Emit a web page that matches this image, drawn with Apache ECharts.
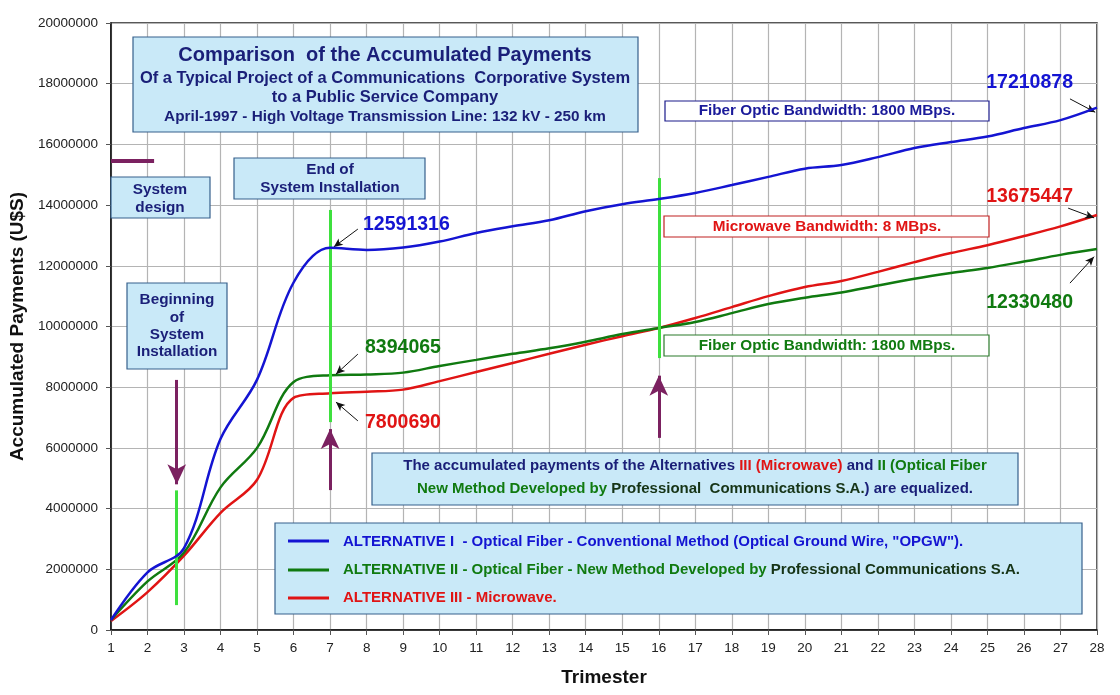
<!DOCTYPE html>
<html>
<head>
<meta charset="utf-8">
<script src="https://cdn.jsdelivr.net/npm/echarts@6/dist/echarts.min.js"></script>
<style>
  html, body { margin: 0; padding: 0; background: #fff; }
  #chart { width: 1120px; height: 695px; }
</style>
</head>
<body>
<div id="chart"></div>
<script>
// data
var trimesters = [1, 2, 3, 4, 5, 6, 7, 8, 9, 10, 11, 12, 13, 14, 15, 16, 17, 18, 19, 20, 21, 22, 23, 24, 25, 26, 27, 28];
var altI = [330000, 1900000, 2700000, 6300000, 8250000, 11450000, 12591316, 12520000, 12600000, 12800000, 13080000, 13300000, 13500000, 13800000, 14030000, 14200000, 14400000, 14660000, 14930000, 15200000, 15320000, 15580000, 15880000, 16080000, 16260000, 16540000, 16800000, 17210878];
var altII = [330000, 1600000, 2550000, 4700000, 6000000, 8170000, 8394065, 8420000, 8480000, 8700000, 8900000, 9100000, 9280000, 9500000, 9750000, 9950000, 10150000, 10440000, 10740000, 10950000, 11120000, 11350000, 11570000, 11760000, 11930000, 12140000, 12360000, 12550000];
var altIII = [300000, 1250000, 2450000, 3860000, 4950000, 7650000, 7800690, 7850000, 7920000, 8200000, 8500000, 8800000, 9100000, 9400000, 9680000, 9950000, 10280000, 10640000, 11000000, 11300000, 11500000, 11800000, 12120000, 12420000, 12680000, 12980000, 13300000, 13675447];
var yTicks = { min: 0, max: 20000000, step: 2000000 };
var valueLabels = ["12591316", "8394065", "7800690", "17210878", "13675447", "12330480"];

var FONT = '"Liberation Sans", Arial, sans-serif';
var BLUE = "#1414d2", GREEN = "#107a10", RED = "#e01414";
var NAVY = "#1a1f78", PURPLE = "#7b2160", LIME = "#3ee03e";
var BOXFILL = "#c9e9f8", BOXLINE = "#36608c";

function pairs(vals) {
  return trimesters.map(function (t, i) { return [t, vals[i]]; });
}

function seg(x1, y1, x2, y2, color, width, s1, s2, size) {
  return [
    { coord: [x1, y1], symbol: s1 || "none", symbolSize: size, lineStyle: { color: color, width: width, type: "solid" } },
    { coord: [x2, y2], symbol: s2 || "none", symbolSize: size }
  ];
}

var arrowSize = [14, 20];
var markLines = [
  seg(1, 15450000, 2.18, 15450000, PURPLE, 4),
  seg(2.8, 4600000, 2.8, 820000, LIME, 3),
  seg(7, 13840000, 7, 6850000, LIME, 3),
  seg(16, 14890000, 16, 8960000, LIME, 3),
  seg(2.8, 8240000, 2.8, 4800000, PURPLE, 3, "none", "arrow", arrowSize),
  seg(7, 4610000, 7, 6620000, PURPLE, 3, "none", "arrow", arrowSize),
  seg(16, 6330000, 16, 8380000, PURPLE, 3, "none", "arrow", arrowSize),
  // little black pointers to the printed values
  seg(7.76, 13210000, 7.1, 12620000, "#111", 1, "none", "arrow", [6, 9]),
  seg(7.76, 9090000, 7.16, 8430000, "#111", 1, "none", "arrow", [6, 9]),
  seg(7.76, 6890000, 7.16, 7510000, "#111", 1, "none", "arrow", [6, 9]),
  seg(27.26, 17500000, 27.95, 17060000, "#111", 1, "none", "arrow", [6, 9]),
  seg(27.21, 13900000, 27.92, 13580000, "#111", 1, "none", "arrow", [6, 9]),
  seg(27.26, 11430000, 27.92, 12300000, "#111", 1, "none", "arrow", [6, 9])
];

function txt(text, x, y, color, size, align) {
  return {
    type: "text", z: 100,
    style: {
      text: text, x: x, y: y, fill: color,
      font: "bold " + size + "px " + FONT,
      textAlign: align || "center", textVerticalAlign: "middle"
    }
  };
}
function box(x, y, w, h, fill, stroke) {
  return {
    type: "rect", z: 90,
    shape: { x: x, y: y, width: w, height: h },
    style: { fill: fill, stroke: stroke, lineWidth: 1.2 }
  };
}
function rich(text, x, y, align) {
  var r = {};
  [["n", NAVY], ["r", RED], ["g", GREEN], ["b", BLUE], ["k", "#163416"]].forEach(function (c) {
    r[c[0]] = { fill: c[1], fontSize: 15, fontWeight: "bold", fontFamily: FONT };
  });
  return {
    type: "text", z: 100,
    style: { text: text, rich: r, x: x, y: y, textAlign: align || "center", textVerticalAlign: "middle" }
  };
}

var graphics = [
  box(133, 37, 505, 95, BOXFILL, BOXLINE),
  txt("Comparison  of the Accumulated Payments", 385, 55, NAVY, 20),
  txt("Of a Typical Project of a Communications  Corporative System", 385, 78, NAVY, 16.5),
  txt("to a Public Service Company", 385, 97, NAVY, 16.5),
  txt("April-1997 - High Voltage Transmission Line: 132 kV - 250 km", 385, 117, NAVY, 15.3),

  box(111, 177, 99, 41, BOXFILL, BOXLINE),
  txt("System", 160, 190, NAVY, 15.3),
  txt("design", 160, 208, NAVY, 15.3),

  box(234, 158, 191, 41, BOXFILL, BOXLINE),
  txt("End of", 330, 170, NAVY, 15.3),
  txt("System Installation", 330, 188, NAVY, 15.3),

  box(127, 283, 100, 86, BOXFILL, BOXLINE),
  txt("Beginning", 177, 300, NAVY, 15.3),
  txt("of", 177, 318, NAVY, 15.3),
  txt("System", 177, 335, NAVY, 15.3),
  txt("Installation", 177, 352, NAVY, 15.3),

  box(665, 101, 324, 20, "#fff", "#1a1a8a"),
  txt("Fiber Optic Bandwidth: 1800 MBps.", 827, 111, "#1a1a9a", 15.3),
  box(664, 216, 325, 21, "#fff", "#c02020"),
  txt("Microwave Bandwidth: 8 MBps.", 827, 227, RED, 15.3),
  box(664, 335, 325, 21, "#fff", "#2a7a2a"),
  txt("Fiber Optic Bandwidth: 1800 MBps.", 827, 346, GREEN, 15.3),

  txt(valueLabels[0], 363, 225, BLUE, 19.5, "left"),
  txt(valueLabels[1], 365, 348, GREEN, 19.5, "left"),
  txt(valueLabels[2], 365, 423, RED, 19.5, "left"),
  txt(valueLabels[3], 1073, 83, BLUE, 19.5, "right"),
  txt(valueLabels[4], 1073, 197, RED, 19.5, "right"),
  txt(valueLabels[5], 1073, 303, GREEN, 19.5, "right"),

  box(372, 453, 646, 52, BOXFILL, BOXLINE),
  rich("{n|The accumulated payments of the Alternatives }{r|III (Microwave)}{n| and }{g|II (Optical Fiber}", 695, 466),
  rich("{g|New Method Developed by }{k|Professional  Communications S.A.}{n|) are equalized.}", 695, 489),

  box(275, 523, 807, 91, BOXFILL, BOXLINE),
  { type: "line", z: 100, shape: { x1: 288, y1: 541, x2: 329, y2: 541 }, style: { stroke: BLUE, lineWidth: 3 } },
  { type: "line", z: 100, shape: { x1: 288, y1: 570, x2: 329, y2: 570 }, style: { stroke: GREEN, lineWidth: 3 } },
  { type: "line", z: 100, shape: { x1: 288, y1: 598, x2: 329, y2: 598 }, style: { stroke: RED, lineWidth: 3 } },
  rich('{b|ALTERNATIVE I  - Optical Fiber - Conventional Method (Optical Ground Wire, "OPGW").}', 343, 542, "left"),
  rich("{g|ALTERNATIVE II - Optical Fiber - New Method Developed by }{k|Professional Communications S.A.}", 343, 570, "left"),
  rich("{r|ALTERNATIVE III - Microwave.}", 343, 598, "left")
];

var myChart = echarts.init(document.getElementById("chart"));
var option = {
  animation: false,
  backgroundColor: "#fff",
  grid: {
    left: 111, right: 23, top: 23, bottom: 65,
    outerBoundsMode: "none", containLabel: false,
    show: true, borderColor: "#222", borderWidth: 1.5
  },
  xAxis: {
    type: "value", min: 1, max: 28, interval: 1,
    name: "Trimester", nameLocation: "middle", nameGap: 38,
    nameTextStyle: { fontFamily: FONT, fontWeight: "bold", fontSize: 19, color: "#111" },
    axisLine: { lineStyle: { color: "#111", width: 1.5 } },
    axisTick: { lineStyle: { color: "#555" }, length: 5 },
    axisLabel: { fontFamily: FONT, fontSize: 13.5, color: "#222", margin: 11 },
    splitLine: { lineStyle: { color: "#b4b4b4", width: 1.2 } }
  },
  yAxis: {
    type: "value", min: yTicks.min, max: yTicks.max, interval: yTicks.step,
    name: "Accumulated Payments (U$S)", nameLocation: "middle", nameGap: 84,
    nameTextStyle: { fontFamily: FONT, fontWeight: "bold", fontSize: 19, color: "#111" },
    axisLine: { lineStyle: { color: "#111", width: 1.5 } },
    axisTick: { lineStyle: { color: "#555" }, length: 5 },
    axisLabel: {
      fontFamily: FONT, fontSize: 13.5, color: "#222", margin: 13,
      formatter: function (v) { return String(v); }
    },
    splitLine: { lineStyle: { color: "#b4b4b4", width: 1.2 } }
  },
  series: [
    {
      name: "ALTERNATIVE I", type: "line", data: pairs(altI), smooth: 0.35,
      showSymbol: false, lineStyle: { color: BLUE, width: 2.5 }, z: 5,
      markLine: { silent: true, animation: false, label: { show: false }, symbol: "none", data: markLines }
    },
    {
      name: "ALTERNATIVE II", type: "line", data: pairs(altII), smooth: 0.35,
      showSymbol: false, lineStyle: { color: GREEN, width: 2.5 }, z: 4
    },
    {
      name: "ALTERNATIVE III", type: "line", data: pairs(altIII), smooth: 0.35,
      showSymbol: false, lineStyle: { color: RED, width: 2.5 }, z: 3
    }
  ],
  graphic: graphics
};
myChart.setOption(option);
window.addEventListener("resize", function () { myChart.resize(); });
</script>
</body>
</html>
